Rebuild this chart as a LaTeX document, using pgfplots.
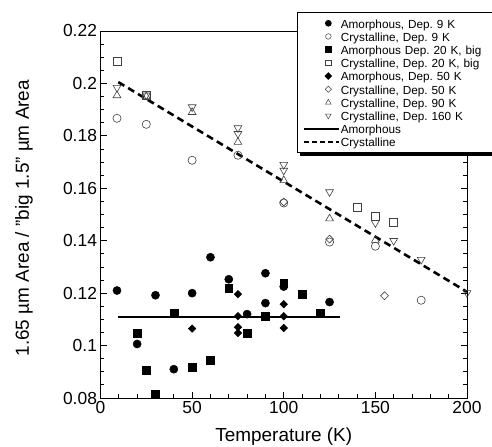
\documentclass[border=0pt]{standalone}
\usepackage{pgfplots}
\pgfplotsset{compat=1.18}
\usepackage{fontspec}
\setmainfont{Liberation Sans}
\begin{document}
\frenchspacing
\begin{tikzpicture}
\begin{axis}[
  at={(0,0)}, anchor=south west,
  scale only axis, width=366.5bp, height=367bp,
  xmin=0, xmax=200, ymin=0.08, ymax=0.22,
  clip=false,
  xtick={0,50,100,150,200}, minor x tick num=4,
  ytick={0.08,0.1,0.12,0.14,0.16,0.18,0.2,0.22}, minor y tick num=3,
  xtick pos=bottom, ytick pos=both, yticklabel pos=left,
  tick align=inside,
  major tick length=6.5bp, minor tick length=4bp,
  every tick/.style={black, line width=0.8bp},
  axis line style={line width=0.8bp},
  /pgf/number format/assume math mode=true,
  /pgf/number format/fixed,
  /pgf/number format/precision=2,
  ticklabel style={font=\fontsize{17.5}{20}\selectfont},
  xlabel={Temperature (K)},
  ylabel={1.65 µm Area / "big 1.5" µm Area},
  every axis x label/.style={at={(axis description cs:0.5,-0.1063)},anchor=center,font=\fontsize{19}{22}\selectfont},
  every axis y label/.style={at={(axis description cs:-0.2087,0.49)},rotate=90,anchor=center,font=\fontsize{19}{22}\selectfont},
  legend cell align=left,
  legend image code/.code={\draw[mark repeat=2,mark phase=2,#1] plot coordinates {(2bp,0bp) (26bp,0bp) (37bp,0bp)};},
  legend style={at={(axis description cs:0.536,1.052)}, anchor=north west,
    font=\fontsize{11.8}{13}\selectfont, draw=black, line width=1bp, fill=white,
    inner xsep=6bp, inner ysep=4.5bp, row sep=0.5bp,
    nodes={inner sep=0.6bp, text height=10.5bp, text depth=1bp, text width=150bp, align=left, xshift=8bp}},
]
% legend shadow
\fill[black] ([shift={(199.5bp,241.5bp)}]rel axis cs:0,0) rectangle ([shift={(420bp,383bp)}]rel axis cs:0,0);
% Amorphous, Dep. 9 K
\addplot[forget plot, only marks, mark=*, mark size=4.1bp, black] coordinates {
(9,0.121) (20,0.1006) (30,0.1192) (40,0.0910) (50,0.1200) (60,0.1337)
(70,0.1253) (80,0.1120) (90,0.1276) (90,0.1162) (100,0.1225) (125,0.1166)};
% Amorphous Dep. 20 K, big
\addplot[forget plot, only marks, mark=square*, mark size=3.9bp, black] coordinates {
(20,0.1048) (25,0.0907) (30,0.0815) (40,0.1124) (50,0.0918) (60,0.0945)
(70,0.1219) (80,0.1048) (90,0.1112) (100,0.1238) (110,0.1196) (120,0.1124)};
% Amorphous, Dep. 50 K
\addplot[forget plot, only marks, mark=square*, mark size=2.7bp, mark options={rotate=45}, black] coordinates {
(50,0.1065) (75,0.1196) (75,0.1112) (75,0.1070) (75,0.1048)
(100,0.1158) (100,0.1112) (100,0.1067) (125,0.1166)};
% Crystalline, Dep. 9 K
\addplot[forget plot, only marks, mark=o, mark size=4.1bp, black!75, line width=0.6bp] coordinates {
(9,0.1867) (25,0.1844) (50,0.1707) (75,0.1726) (100,0.1544) (125,0.1395) (150,0.1379) (175,0.1173)};
% Crystalline, Dep. 20 K, big
\addplot[forget plot, only marks, mark=square, mark size=4bp, black!75, line width=0.6bp] coordinates {
(9,0.2086) (25,0.1955) (140,0.1528) (150,0.1495) (160,0.1469)};
% Crystalline, Dep. 50 K
\addplot[forget plot, only marks, mark=square, mark size=2.8bp, mark options={rotate=45}, black!75, line width=0.6bp] coordinates {
(100,0.1548) (125,0.1406) (155,0.1190)};
% Crystalline, Dep. 90 K
\addplot[forget plot, only marks, mark=triangle, mark size=4.5bp, black!75, line width=0.6bp] coordinates {
(9,0.1954) (25,0.1950) (50,0.1890) (75,0.1776) (100,0.1630) (125,0.1484) (150,0.1402)};
% Crystalline, Dep. 160 K
\addplot[forget plot, only marks, mark=triangle, mark size=4.5bp, mark options={rotate=180}, black!75, line width=0.6bp] coordinates {
(9,0.1984) (25,0.1955) (50,0.1910) (75,0.1830) (75,0.1808) (100,0.1690) (100,0.1668)
(125,0.1586) (150,0.1468) (160,0.1400) (175,0.1328) (200,0.1201)};
% fits
\addplot[forget plot, black, line width=2bp] coordinates {(9.5,0.1108) (130.5,0.1108)};
\addplot[forget plot, black, line width=2.6bp, dash pattern=on 7bp off 4.5bp] coordinates {(9.7,0.2005) (200,0.1205)};
% legend
\addlegendimage{only marks, mark=*, mark size=2.8bp, black}
\addlegendentry{Amorphous, Dep. 9 K}
\addlegendimage{only marks, mark=o, mark size=2.8bp, black!75, line width=0.5bp}
\addlegendentry{Crystalline, Dep. 9 K}
\addlegendimage{only marks, mark=square*, mark size=2.7bp, black}
\addlegendentry{Amorphous Dep. 20 K, big}
\addlegendimage{only marks, mark=square, mark size=2.7bp, black!75, line width=0.5bp}
\addlegendentry{Crystalline, Dep. 20 K, big}
\addlegendimage{only marks, mark=square*, mark size=2.2bp, mark options={rotate=45}, black}
\addlegendentry{Amorphous, Dep. 50 K}
\addlegendimage{only marks, mark=square, mark size=2.2bp, mark options={rotate=45}, black!75, line width=0.5bp}
\addlegendentry{Crystalline, Dep. 50 K}
\addlegendimage{only marks, mark=triangle, mark size=3.2bp, black!75, line width=0.5bp}
\addlegendentry{Crystalline, Dep. 90 K}
\addlegendimage{only marks, mark=triangle, mark size=3.2bp, mark options={rotate=180}, black!75, line width=0.5bp}
\addlegendentry{Crystalline, Dep. 160 K}
\addlegendimage{black, line width=1.5bp}
\addlegendentry{Amorphous}
\addlegendimage{black, line width=1.8bp, dash pattern=on 5bp off 3bp}
\addlegendentry{Crystalline}
\end{axis}
\pgfresetboundingbox
\path[use as bounding box] (-100.5bp,-49bp) rectangle (391.5bp,398bp);
\end{tikzpicture}
\end{document}
